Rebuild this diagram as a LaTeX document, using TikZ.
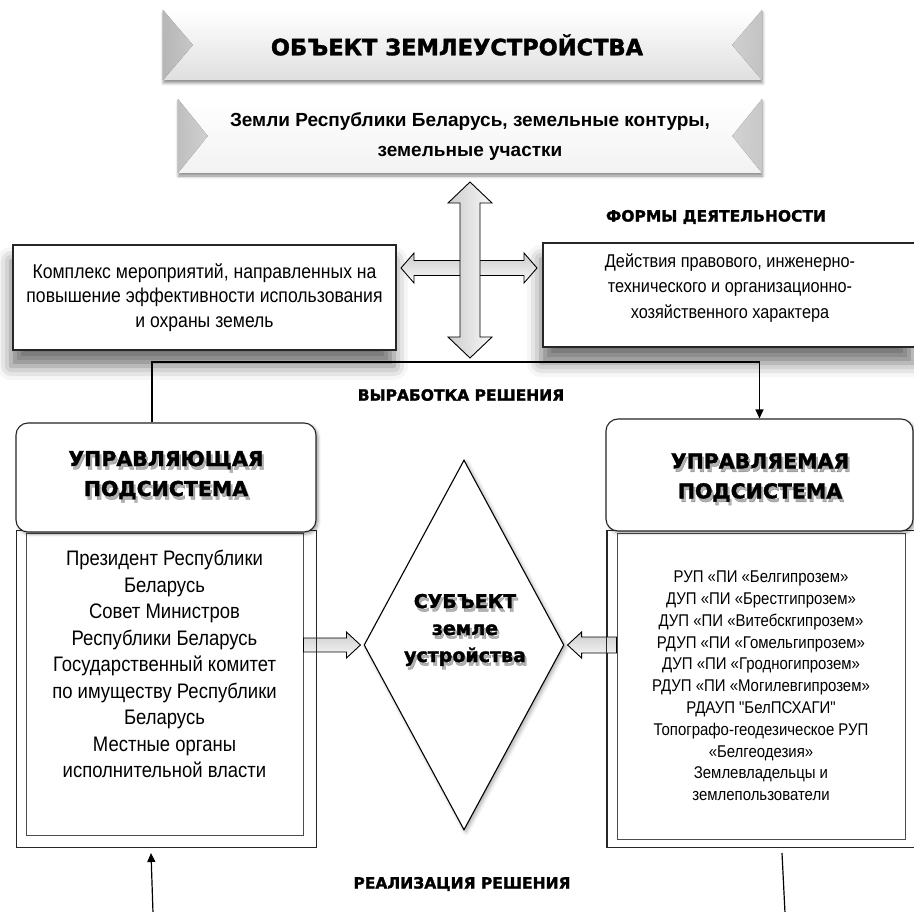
\documentclass[tikz,border=0pt]{standalone}
\usepackage{fontspec}
\setmainfont{Liberation Sans}
\newfontfamily\narrowf[FakeStretch=0.88]{Liberation Sans}
\newfontfamily\heavyf{DejaVu Sans}[BoldFeatures={FakeBold=1.6}]
\usetikzlibrary{arrows.meta,calc,shapes.geometric,shadows,shadows.blur}

\newcommand\shtext[4]{% name, position, style, text
  \node[#3, text=black, opacity=0.3] at ($(#2)+(2,3.5)$) {#4};
  \node[#3] (#1) at (#2) {#4};}

\begin{document}
\begin{tikzpicture}[x=1pt,y=-1pt,
  heavy22/.style={font={\heavyf\bfseries\fontsize{20.5}{30}\selectfont}, align=center, inner sep=0pt},
  heavytop/.style={font={\heavyf\bfseries\fontsize{22.5}{30}\selectfont}, align=center, inner sep=0pt},
  heavy15/.style={font={\heavyf\bfseries\fontsize{15.5}{18}\selectfont}, align=center, inner sep=0pt},
  heavy18/.style={font={\heavyf\bfseries\fontsize{19}{27}\selectfont}, align=center, inner sep=0pt},
  softshadow/.style={blur shadow={shadow xshift=0.5pt, shadow yshift=-3pt, shadow blur radius=3pt, shadow opacity=45}},
  bigshadow/.style={blur shadow={shadow xshift=-2pt, shadow yshift=-16pt, shadow blur radius=14pt, shadow opacity=55}},
  bevelbox/.style={inner sep=0pt, align=center, softshadow},
  plainbox/.style={draw=black!85, line width=1.1pt, fill=white, inner sep=0pt, align=center},
  thinbox/.style={draw=black!85, line width=1pt, inner sep=0pt},
  headbox/.style={draw=black!85, line width=1.1pt, fill=white, rounded corners=12pt, inner sep=0pt, blur shadow={shadow xshift=2pt, shadow yshift=-2pt, shadow blur radius=3pt, shadow opacity=40}},
  harrow/.style={draw=black, line width=0.9pt, top color=gray!40, bottom color=gray!5},
  varrow/.style={draw=black, line width=0.9pt, left color=gray!40, right color=gray!5},
  conn/.style={draw=black, line width=1.2pt},
  tip/.style={-{Triangle[length=9pt,width=8pt]}}
]
\useasboundingbox (0,0) rectangle (914,912);

% ---------- top boxes ----------
\node[bevelbox, minimum width=599pt, minimum height=70pt, top color=white, bottom color=gray!25] (obj) at (462.5,45) {};
\fill[left color=gray!30, right color=gray!14, opacity=0.8] (obj.north west) -- ($(obj.west)+(30,0)$) -- (obj.south west) -- cycle;
\fill[left color=gray!6, right color=gray!18, opacity=0.8] (obj.north east) -- ($(obj.east)+(-30,0)$) -- (obj.south east) -- cycle;
\node[heavytop] (objtxt) at (457,45) {ОБЪЕКТ ЗЕМЛЕУСТРОЙСТВА};

\node[bevelbox, minimum width=584pt, minimum height=74pt, top color=white, bottom color=gray!10] (lands) at (470,136) {};
\fill[left color=gray!22, right color=gray!6, opacity=0.8] (lands.north west) -- ($(lands.west)+(30,0)$) -- (lands.south west) -- cycle;
\fill[left color=gray!3, right color=gray!14, opacity=0.8] (lands.north east) -- ($(lands.east)+(-30,0)$) -- (lands.south east) -- cycle;
\node[font={\bfseries\fontsize{19}{30}\selectfont}, align=center, inner sep=0pt] (landstxt) at (470,137)
  {Земли Республики Беларусь, земельные контуры,\\ земельные участки};

% ---------- forms of activity ----------
\node[heavy15] (formslbl) at (716,217) {ФОРМЫ ДЕЯТЕЛЬНОСТИ};

\node[plainbox, bigshadow, minimum width=383pt, minimum height=105pt,
      font={\narrowf\fontsize{20}{24.5}\selectfont}] (compl) at (204.5,297.5)
  {Комплекс мероприятий, направленных на\\ повышение эффективности использования\\ и охраны земель};
\node[plainbox, bigshadow, minimum width=372pt, minimum height=104pt] (forms) at (729,295) {};
\node[font={\narrowf\fontsize{18.5}{25.5}\selectfont}, align=center, inner sep=0pt] (formstxt) at (730,288)
  {Действия правового, инженерно-\\ технического и организационно-\\ хозяйственного характера};

% ---------- cross arrow ----------
\coordinate (hl) at (401,268);
\coordinate (hr) at (537,268);
\coordinate (vt) at (470,182);
\coordinate (vb) at (470,358);
\path[harrow] (hl) -- ($(hl)+(13,-15)$) -- ($(hl)+(13,-7.5)$) -- ($(hr)+(-13,-7.5)$) -- ($(hr)+(-13,-15)$) -- (hr)
  -- ($(hr)+(-13,15)$) -- ($(hr)+(-13,7.5)$) -- ($(hl)+(13,7.5)$) -- ($(hl)+(13,15)$) -- cycle;
\path[varrow] (vt) -- ($(vt)+(22,21)$) -- ($(vt)+(10,21)$) -- ($(vb)+(10,-21)$) -- ($(vb)+(22,-21)$) -- (vb)
  -- ($(vb)+(-22,-21)$) -- ($(vb)+(-10,-21)$) -- ($(vt)+(-10,21)$) -- ($(vt)+(-22,21)$) -- cycle;

% ---------- subsystems ----------
\node[thinbox, minimum width=300pt, minimum height=317pt] (ctrlout) at (166,688.5) {};
\node[thinbox, draw=black!70, minimum width=277pt, minimum height=302pt] (ctrlin) at (164.5,684) {};
\node[headbox, minimum width=300pt, minimum height=109pt] (ctrlhead) at (166,477.5) {};
\shtext{ctrlhtxt}{166,475}{heavy22}{УПРАВЛЯЮЩАЯ\\ ПОДСИСТЕМА}
\node[font={\narrowf\fontsize{21}{26.5}\selectfont}, align=center, inner sep=0pt] (ctrltxt) at (164.5,664)
  {Президент Республики\\ Беларусь\\ Совет Министров\\ Республики Беларусь\\ Государственный комитет\\ по имуществу Республики\\ Беларусь\\ Местные органы\\ исполнительной власти};

\node[thinbox, minimum width=309pt, minimum height=317pt] (mgdout) at (761.5,688.5) {};
\node[thinbox, draw=black!70, minimum width=288pt, minimum height=306pt] (mgdin) at (761,686) {};
\node[headbox, minimum width=307pt, minimum height=112pt] (mgdhead) at (759.5,475) {};
\shtext{mgdhtxt}{760,477.5}{heavy22}{УПРАВЛЯЕМАЯ\\ ПОДСИСТЕМА}
\node[font={\narrowf\fontsize{17}{21.8}\selectfont}, align=center, inner sep=0pt] (mgdtxt) at (761,686)
  {РУП «ПИ «Белгипрозем»\\ ДУП «ПИ «Брестгипрозем»\\ ДУП «ПИ «Витебскгипрозем»\\ РДУП «ПИ «Гомельгипрозем»\\ ДУП «ПИ «Гродногипрозем»\\ РДУП «ПИ «Могилевгипрозем»\\ РДАУП "БелПСХАГИ"\\ Топографо-геодезическое РУП\\ «Белгеодезия»\\ Землевладельцы и\\ землепользователи};

% ---------- subject diamond ----------
\node[diamond, draw=black, line width=1.1pt, fill=white, inner sep=0pt, minimum width=200pt, minimum height=370pt,
      blur shadow={shadow xshift=2pt, shadow yshift=-2pt, shadow blur radius=4pt, shadow opacity=35}] (subj) at (464,645) {};
\shtext{subjtxt}{465,630}{heavy18}{СУБЪЕКТ\\ земле\\ устройства}

% block arrows into the diamond
\coordinate (la) at (ctrlin.east |- subj.west);
\coordinate (lt) at ($(subj.west)+(-3,0)$);
\path[harrow] (la) -- ($(la)+(0,-7)$) -- ($(lt)+(-14,-7)$) -- ($(lt)+(-14,-13)$) -- (lt) -- ($(lt)+(-14,13)$) -- ($(lt)+(-14,7)$) -- ($(la)+(0,7)$) -- cycle;
\coordinate (ra) at (mgdin.west |- subj.east);
\coordinate (rt) at ($(subj.east)+(3,0)$);
\path[harrow] (ra) -- ($(ra)+(0,-8)$) -- ($(rt)+(14,-8)$) -- ($(rt)+(14,-13)$) -- (rt) -- ($(rt)+(14,13)$) -- ($(rt)+(14,8)$) -- ($(ra)+(0,8)$) -- cycle;
% box borders over the arrow shafts
\draw[black!85, line width=1pt] (ctrlout.north east) -- (ctrlout.south east);
\draw[black!85, line width=1pt] (mgdout.north west) -- (mgdout.south west);

% ---------- connectors ----------
\coordinate (tl) at (152,362);
\coordinate (tr) at (759.5,362);
\draw[conn] (ctrlhead.north -| tl) -- (tl) -- (tr);
\draw[conn, tip] (tr) -- (mgdhead.north);
\node[heavy15] (dev) at (461,395) {ВЫРАБОТКА РЕШЕНИЯ};

\coordinate (bl) at (153,913);
\coordinate (blt) at (151,853);
\draw[conn, tip] (bl) -- (blt);
\coordinate (br) at (785,913);
\coordinate (brt) at (782,853);
\draw[conn] (br) -- (brt);
\node[heavy15] (impl) at (462,884) {РЕАЛИЗАЦИЯ РЕШЕНИЯ};
\end{tikzpicture}
\end{document}
